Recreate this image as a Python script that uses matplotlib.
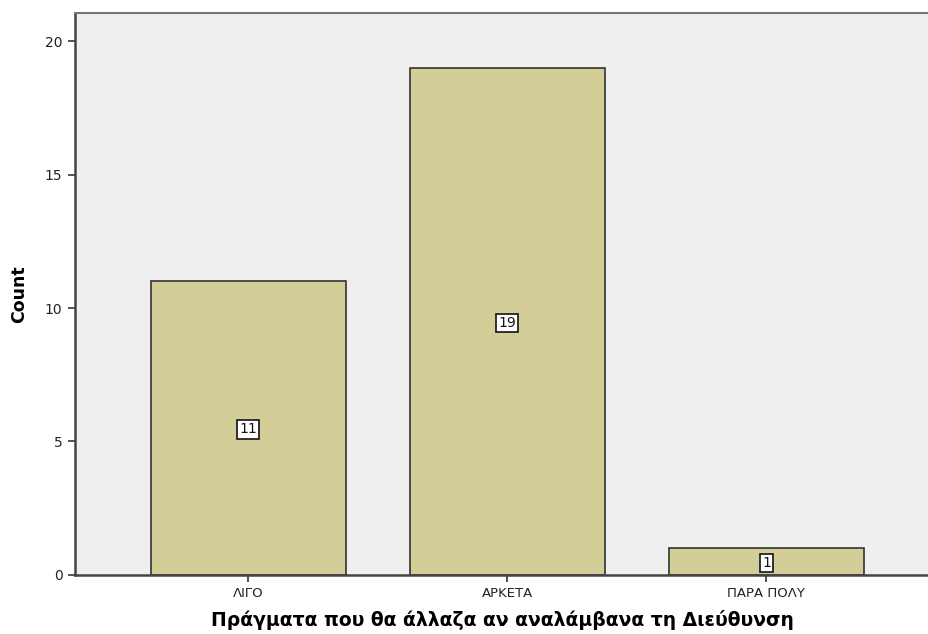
import matplotlib
matplotlib.use('Agg')
import matplotlib.pyplot as plt

categories = ['ΛΙΓΟ', 'ΑΡΚΕΤΑ', 'ΠΑΡΑ ΠΟΛΥ']
counts = [11, 19, 1]
y_ticks = [0, 5, 10, 15, 20]

BAR_COLOR = '#D3CE98'
BG_COLOR = '#EFEFEF'

fig = plt.figure(figsize=(9.29, 6.34), dpi=100)
ax = fig.add_axes([0.0807, 0.0931, 0.92, 0.8864])
ax.set_facecolor(BG_COLOR)

x = list(range(len(categories)))
ax.bar(x, counts, width=0.753, color=BAR_COLOR, edgecolor='#333333',
       linewidth=1.2, zorder=2)

# value labels in the middle of each bar
for xi, c in zip(x, counts):
    ax.text(xi, c / 2 - 0.05, str(c), ha='center', va='center', fontsize=10,
            color='#111111', zorder=3,
            bbox=dict(boxstyle='square,pad=0.15', facecolor='white',
                      edgecolor='#222222', linewidth=1.3))

ax.set_xlim(-0.668, 2.63)
ax.set_ylim(0, 21.05)
ax.set_xticks(x)
ax.set_xticklabels(categories, fontsize=9.5, color='#222222')
ax.set_yticks(y_ticks)
ax.set_yticklabels([str(t) for t in y_ticks], fontsize=10, color='#222222')
ax.tick_params(axis='both', direction='out', length=5, width=1.2,
               color='#333333', pad=4)

for side in ['left', 'bottom']:
    ax.spines[side].set_color('#444444')
    ax.spines[side].set_linewidth(1.8)
ax.spines['top'].set_color('#777777')
ax.spines['top'].set_linewidth(1.5)
ax.spines['right'].set_visible(False)

ax.set_ylabel('Count', fontsize=12.5, fontweight='bold', labelpad=12)
ax.set_xlabel('Πράγματα που θα άλλαζα αν αναλάμβανα τη Διεύθυνση',
              fontsize=13.5, fontweight='bold', labelpad=7)

fig.savefig('out.png', dpi=100)
